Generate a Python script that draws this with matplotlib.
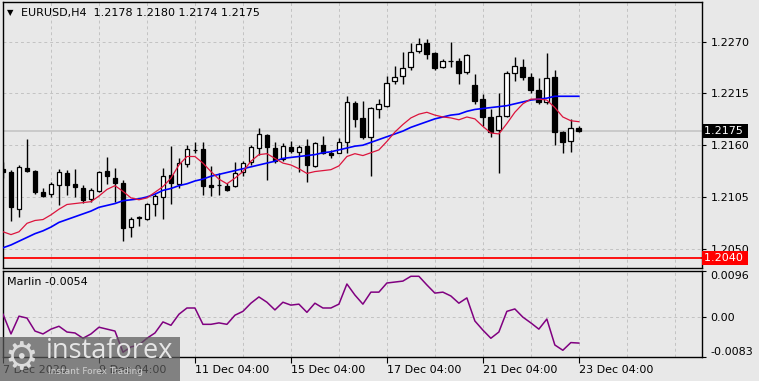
import matplotlib
matplotlib.use('Agg')
import matplotlib.pyplot as plt
import matplotlib.transforms as mtransforms

# EURUSD H4 candles
opens = [1.2135, 1.2132, 1.2092, 1.2136, 1.2133, 1.2110, 1.2108, 1.2118, 1.2130, 1.2119,
         1.2115, 1.2103, 1.2111, 1.2133, 1.2125, 1.2120, 1.2073, 1.2083, 1.2082, 1.2098,
         1.2105, 1.2128, 1.2119, 1.2140, 1.2155, 1.2156, 1.2118, 1.2118, 1.2117, 1.2117,
         1.2131, 1.2142, 1.2157, 1.2171, 1.2157, 1.2145, 1.2158, 1.2153, 1.2159, 1.2138,
         1.2160, 1.2152, 1.2152, 1.2163, 1.2205, 1.2189, 1.2169, 1.2199, 1.2202, 1.2228,
         1.2234, 1.2243, 1.2260, 1.2269, 1.2258, 1.2243, 1.2249, 1.2249, 1.2238, 1.2224,
         1.2209, 1.2190, 1.2176, 1.2191, 1.2237, 1.2243, 1.2232, 1.2219, 1.2206, 1.2232,
         1.2174, 1.2164, 1.2178]
highs = [1.2142, 1.2134, 1.2139, 1.2167, 1.2134, 1.2115, 1.2121, 1.2135, 1.2134, 1.2135,
         1.2118, 1.2115, 1.2133, 1.2148, 1.2136, 1.2123, 1.2084, 1.2085, 1.2099, 1.2108,
         1.2136, 1.2159, 1.2146, 1.2160, 1.2163, 1.2163, 1.2138, 1.2130, 1.2120, 1.2142,
         1.2143, 1.2160, 1.2178, 1.2172, 1.2163, 1.2162, 1.2164, 1.2160, 1.2167, 1.2163,
         1.2170, 1.2155, 1.2168, 1.2212, 1.2207, 1.2207, 1.2201, 1.2209, 1.2234, 1.2244,
         1.2259, 1.2269, 1.2274, 1.2273, 1.2259, 1.2252, 1.2270, 1.2253, 1.2257, 1.2236,
         1.2214, 1.2199, 1.2216, 1.2239, 1.2254, 1.2252, 1.2237, 1.2231, 1.2258, 1.2240,
         1.2175, 1.2188, 1.2180]
lows = [1.2125, 1.2079, 1.2084, 1.2131, 1.2108, 1.2105, 1.2105, 1.2096, 1.2107, 1.2105,
        1.2099, 1.2100, 1.2110, 1.2119, 1.2100, 1.2058, 1.2062, 1.2074, 1.2081, 1.2085,
        1.2082, 1.2097, 1.2115, 1.2137, 1.2152, 1.2107, 1.2106, 1.2107, 1.2111, 1.2116,
        1.2127, 1.2139, 1.2150, 1.2123, 1.2141, 1.2143, 1.2152, 1.2132, 1.2121, 1.2137,
        1.2151, 1.2146, 1.2152, 1.2152, 1.2179, 1.2167, 1.2127, 1.2189, 1.2201, 1.2225,
        1.2225, 1.2240, 1.2258, 1.2252, 1.2240, 1.2242, 1.2243, 1.2225, 1.2236, 1.2204,
        1.2180, 1.2169, 1.2130, 1.2190, 1.2228, 1.2229, 1.2216, 1.2204, 1.2204, 1.2160,
        1.2152, 1.2153, 1.2174]
closes = [1.2132, 1.2094, 1.2137, 1.2133, 1.2110, 1.2106, 1.2119, 1.2131, 1.2118, 1.2116,
          1.2102, 1.2112, 1.2132, 1.2127, 1.2120, 1.2072, 1.2082, 1.2083, 1.2097, 1.2106,
          1.2127, 1.2120, 1.2141, 1.2156, 1.2155, 1.2117, 1.2116, 1.2118, 1.2112, 1.2130,
          1.2141, 1.2158, 1.2172, 1.2158, 1.2143, 1.2159, 1.2154, 1.2158, 1.2139, 1.2162,
          1.2152, 1.2150, 1.2163, 1.2206, 1.2188, 1.2169, 1.2200, 1.2204, 1.2226, 1.2233,
          1.2242, 1.2259, 1.2268, 1.2257, 1.2242, 1.2250, 1.2249, 1.2237, 1.2256, 1.2207,
          1.2190, 1.2174, 1.2191, 1.2237, 1.2244, 1.2233, 1.2219, 1.2206, 1.2231, 1.2174,
          1.2163, 1.2178, 1.2175]

ma_fast = [1.2068, 1.2065, 1.2068, 1.2077, 1.2080, 1.2081, 1.2086, 1.2092, 1.2097, 1.2098,
           1.2099, 1.2100, 1.2106, 1.2113, 1.2117, 1.2111, 1.2104, 1.2102, 1.2104, 1.2110,
           1.2116, 1.2125, 1.2139, 1.2148, 1.2148, 1.2141, 1.2132, 1.2124, 1.2119, 1.2125,
           1.2132, 1.2143, 1.2150, 1.2151, 1.2146, 1.2141, 1.2139, 1.2135, 1.2130, 1.2132,
           1.2133, 1.2134, 1.2138, 1.2148, 1.2151, 1.2149, 1.2152, 1.2155, 1.2164, 1.2174,
           1.2182, 1.2189, 1.2193, 1.2195, 1.2192, 1.2190, 1.2189, 1.2187, 1.2190, 1.2188,
           1.2180, 1.2173, 1.2172, 1.2183, 1.2195, 1.2204, 1.2209, 1.2209, 1.2208, 1.2200,
           1.2190, 1.2186, 1.2185]
ma_slow = [1.2051, 1.2054, 1.2058, 1.2062, 1.2066, 1.2069, 1.2073, 1.2078, 1.2081, 1.2084,
           1.2087, 1.2090, 1.2094, 1.2096, 1.2098, 1.2101, 1.2102, 1.2103, 1.2105, 1.2108,
           1.2112, 1.2114, 1.2117, 1.2119, 1.2122, 1.2124, 1.2127, 1.2129, 1.2131, 1.2133,
           1.2135, 1.2137, 1.2139, 1.2141, 1.2143, 1.2146, 1.2147, 1.2148, 1.2149, 1.2150,
           1.2152, 1.2153, 1.2155, 1.2157, 1.2159, 1.2160, 1.2163, 1.2166, 1.2169, 1.2172,
           1.2175, 1.2179, 1.2182, 1.2185, 1.2188, 1.2190, 1.2192, 1.2193, 1.2196, 1.2198,
           1.2199, 1.2200, 1.2201, 1.2202, 1.2204, 1.2206, 1.2208, 1.2209, 1.2210, 1.2212,
           1.2212, 1.2212, 1.2212]

marlin = [0.0006, -0.0035, 0.0002, -0.0002, -0.0029, -0.0035, -0.0025, -0.0019, -0.0031, -0.0033,
          -0.0044, -0.0035, -0.0021, -0.0025, -0.0029, -0.0073, -0.0062, -0.0058, -0.0044, -0.0033,
          -0.0010, -0.0017, 0.0006, 0.0019, 0.0019, -0.0015, -0.0015, -0.0012, -0.0015, 0.0004,
          0.0012, 0.0029, 0.0042, 0.0031, 0.0015, 0.0031, 0.0025, 0.0027, 0.0010, 0.0029,
          0.0019, 0.0019, 0.0027, 0.0069, 0.0046, 0.0027, 0.0052, 0.0052, 0.0071, 0.0073,
          0.0075, 0.0085, 0.0085, 0.0067, 0.0050, 0.0052, 0.0044, 0.0029, 0.0040, -0.0008,
          -0.0027, -0.0044, -0.0031, 0.0012, 0.0017, 0.0000, -0.0012, -0.0025, -0.0004, -0.0058,
          -0.0069, -0.0053, -0.0054]

price_ticks = [1.2270, 1.2215, 1.2160, 1.2105, 1.2050]
marlin_ticks = [0.0096, 0.0, -0.0083]
marlin_tick_labels = ['0.0096', '0.00', '-0.0083']
support_level = 1.2040
date_pos = [0, 12, 24, 36, 48, 60, 72]
date_labels = ['7 Dec 2020', '9 Dec 04:00', '11 Dec 04:00', '15 Dec 04:00',
               '17 Dec 04:00', '21 Dec 04:00', '23 Dec 04:00']

BG = '#e8e8e8'
GRID = '#c2c2c2'
W, H = 759, 381

fig = plt.figure(figsize=(W / 100, H / 100), dpi=100)
fig.patch.set_facecolor(BG)
plt.rcParams['font.family'] = 'DejaVu Sans'


def px_axes(left, top, right, bottom):
    return fig.add_axes([left / W, 1 - bottom / H, (right - left) / W, (bottom - top) / H])


ax = px_axes(3, 2, 702, 268)
ax2 = px_axes(3, 271, 702, 357)

n = len(closes)
xs = list(range(n))
for a in (ax, ax2):
    a.set_facecolor(BG)
    a.set_xlim(0, 87.4)
    for s in a.spines.values():
        s.set_color('black')
        s.set_linewidth(1.0)
    a.set_xticks(date_pos)
    a.set_xticks([p + 6 for p in date_pos] + [84], minor=True)
    a.grid(True, which='both', axis='x', color=GRID, linestyle=(0, (3, 3)), linewidth=0.7)
    a.grid(True, which='major', axis='y', color=GRID, linestyle=(0, (3, 3)), linewidth=0.7)
    a.tick_params(which='minor', length=0)
    a.yaxis.tick_right()

# --- price panel
ax.set_ylim(1.20295, 1.23122)
ax.set_yticks(price_ticks)
ax.set_yticklabels(['%.4f' % v for v in price_ticks])
ax.tick_params(axis='y', length=3, width=0.8, pad=3, labelsize=8)
ax.tick_params(axis='x', which='major', length=0, labelbottom=False)

ax.axhline(closes[-1], color='#c4c4c4', linewidth=1.2, zorder=1)
ax.axhline(support_level, color='#ff0000', linewidth=1.3, zorder=1)

ax.vlines(xs, lows, highs, color='black', linewidth=1.0, zorder=2)
bottoms = [min(o, c) for o, c in zip(opens, closes)]
heights = [max(abs(c - o), 0.00002) for o, c in zip(opens, closes)]
faces = ['white' if c > o else 'black' for o, c in zip(opens, closes)]
ax.bar(xs, heights, bottom=bottoms, width=0.6, color=faces, edgecolor='black',
       linewidth=0.9, zorder=3)

ax.plot(xs, ma_slow, color='#0000ff', linewidth=1.2, zorder=4)
ax.plot(xs, ma_fast, color='#dc143c', linewidth=0.9, zorder=4)

ytr = mtransforms.blended_transform_factory(ax.transAxes, ax.transData)
ax.text(1.0 + 2 / 699, closes[-1], '%.4f ' % closes[-1], transform=ytr, color='white',
        fontsize=8, va='center', ha='left', clip_on=False, zorder=10,
        bbox=dict(boxstyle='square,pad=0.15', facecolor='black', edgecolor='none'))
ax.text(1.0 + 2 / 699, support_level, '%.4f ' % support_level, transform=ytr, color='white',
        fontsize=8, va='center', ha='left', clip_on=False, zorder=10,
        bbox=dict(boxstyle='square,pad=0.15', facecolor='#ff0000', edgecolor='none'))

ax.text(4 / 699, 1 - 11 / 266, '\u25bc', transform=ax.transAxes, fontsize=6, va='center', ha='left')
ax.text(18 / 699, 1 - 11 / 266,
        'EURUSD,H4  %.4f %.4f %.4f %.4f' % (opens[-1], highs[-1], lows[-1], closes[-1]),
        transform=ax.transAxes, fontsize=8, va='center', ha='left')

# --- Marlin panel
ax2.set_ylim(-0.0083, 0.0096)
ax2.set_yticks(marlin_ticks)
ax2.set_yticklabels(marlin_tick_labels)
ax2.tick_params(axis='y', length=3, width=0.8, pad=3, labelsize=8)
ax2.tick_params(axis='x', which='major', length=4, width=0.8, pad=2, labelsize=8, direction='out')
ax2.set_xticklabels(date_labels, ha='left')
labs = ax2.get_yticklabels()
labs[0].set_verticalalignment('top')
labs[2].set_verticalalignment('bottom')
ax2.plot(xs, marlin, color='#800080', linewidth=1.1, zorder=4)
ax2.text(4 / 699, 1 - 11 / 86, 'Marlin %.4f' % marlin[-1], transform=ax2.transAxes,
         fontsize=8, va='center', ha='left')

# --- watermark (semi-transparent, the axis labels show through it)
fig.patches.append(plt.Rectangle((0, 0), 180 / W, 44 / H, transform=fig.transFigure,
                                 facecolor='#5a5a5a', alpha=0.72, edgecolor='none', zorder=20))
fig.text(4 / W, 22 / H, '\u2699', fontsize=27, color='#dcdcdc', va='center', ha='left', zorder=21)
fig.text(46 / W, 30 / H, 'instaforex', fontsize=19.5, color='#e6e6e6', va='center', ha='left',
         family='Open Sans', zorder=21)
fig.text(48 / W, 9 / H, 'Instant Forex Trading', fontsize=6.5, color='#cfcfcf', va='center',
         ha='left', zorder=21)

fig.savefig('out.png', dpi=100, facecolor=BG)
